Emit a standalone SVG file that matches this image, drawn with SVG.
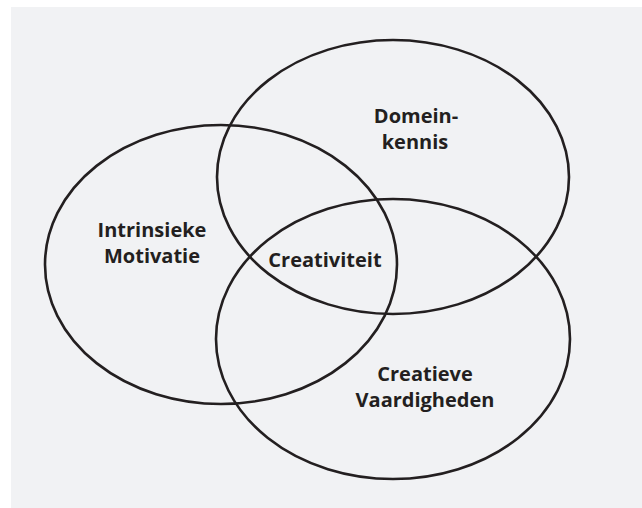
<svg xmlns="http://www.w3.org/2000/svg" width="642" height="508" viewBox="0 0 642 508">
<style>
.c{fill:none;stroke:#231f20;stroke-width:2.6}
.t{font-family:"Open Sans","Liberation Sans",sans-serif;font-weight:bold;font-size:20px;fill:#231f20;text-anchor:middle}
</style>
<rect x="0" y="0" width="642" height="508" fill="#ffffff"/>
<rect x="11" y="7" width="631" height="501" fill="#f1f2f4"/>
<g id="motivatie">
<ellipse class="c" cx="221" cy="264.5" rx="176" ry="139.5"/>
<text class="t" x="152" y="237">Intrinsieke</text>
<text class="t" x="152" y="263">Motivatie</text>
</g>
<g id="domeinkennis">
<ellipse class="c" cx="393" cy="177" rx="176" ry="137"/>
<text class="t" x="416" y="123">Domein-</text>
<text class="t" x="415" y="149">kennis</text>
</g>
<g id="vaardigheden">
<ellipse class="c" cx="393" cy="339" rx="177" ry="140"/>
<text class="t" x="425" y="381">Creatieve</text>
<text class="t" x="425" y="407">Vaardigheden</text>
</g>
<g id="creativiteit">
<text class="t" x="325" y="267">Creativiteit</text>
</g>
</svg>
